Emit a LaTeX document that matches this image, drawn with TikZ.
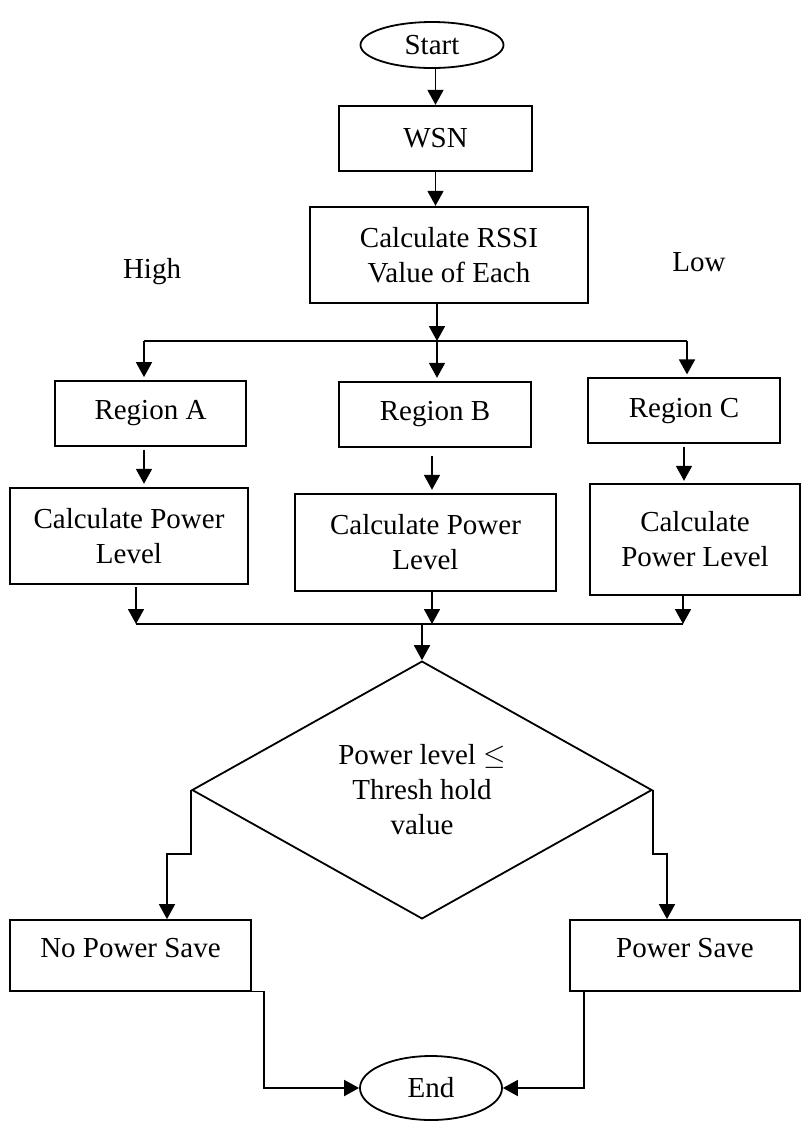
\documentclass[tikz,border=0pt]{standalone}
\usepackage{fontspec}
\setmainfont{Liberation Serif}
\usetikzlibrary{shapes.geometric,arrows.meta}

\begin{document}
\begin{tikzpicture}[x=0.5pt,y=-0.5pt,
    txt/.style={font=\fontsize{14.5}{17.5}\selectfont},
    box/.style={txt,draw,line width=0.9pt,rectangle,inner sep=0pt,align=center},
    term/.style={txt,draw,line width=0.9pt,ellipse,inner sep=0pt},
    decision/.style={txt,draw,line width=0.9pt,diamond,inner sep=0pt,align=center},
    arr/.style={-{Triangle[length=7.5pt,width=8pt]},line width=0.9pt}]
   \useasboundingbox (0,0) rectangle (801,1121);

   \node[term,minimum width=71.5pt,minimum height=23pt] (start) at (432,45) {Start};
   \node[box,minimum width=96.5pt,minimum height=32.7pt] (wsn) at (435.5,138.4) {WSN};
   \node[box,minimum width=139pt,minimum height=48.2pt] (rssi) at (449,254.9) {Calculate RSSI\\Value of Each};
   \node[txt] (high) at (152,272) {High};
   \node[txt] (low) at (699,262) {Low};

   \node[box,minimum width=95.5pt,minimum height=32.4pt] (regA) at (150.5,413.4) {Region A};
   \node[box,minimum width=96pt,minimum height=32.5pt] (regB) at (435,414.2) {Region B};
   \node[box,minimum width=96pt,minimum height=32.5pt] (regC) at (684,410.8) {Region C};

   \node[box,minimum width=119pt,minimum height=48.3pt] (calcA) at (129,536) {Calculate Power\\Level};
   \node[box,minimum width=130.5pt,minimum height=48.5pt] (calcB) at (425.5,542.2) {Calculate Power\\Level};
   \node[box,minimum width=105pt,minimum height=55.6pt] (calcC) at (695,539.3) {Calculate\\Power Level};

   \node[decision,minimum width=230pt,minimum height=128pt] (dec) at (422,790) {Power level \(\leq\)\\Thresh hold\\value};

   \node[box,minimum width=120.5pt,minimum height=35.3pt,text depth=7pt] (nops) at (130.5,955.3) {No Power Save};
   \node[box,minimum width=115pt,minimum height=35.3pt,text depth=7pt] (ps) at (685,955.3) {Power Save};
   \node[term,minimum width=71pt,minimum height=32pt] (end) at (431,1088) {End};

   \coordinate (sA) at (144,341);
   \coordinate (sB) at (437,341);
   \coordinate (sC) at (687,341);
   \coordinate (mA) at (136,624);
   \coordinate (mB) at (432,624);
   \coordinate (mC) at (683,624);

   \draw[arr] (start.south -| wsn) -- (wsn.north);
   \draw[arr] (wsn) -- (wsn |- rssi.north);
   \draw[arr] (rssi.south -| sB) -- (sB);
   \draw[line width=0.9pt] (sA) -- (sC);
   \draw[arr,shorten >=1.5pt] (sA) -- (sA |- regA.north);
   \draw[arr,shorten >=1.5pt] (sB) -- (sB |- regB.north);
   \draw[arr,shorten >=1.5pt] (sC) -- (sC |- regC.north);

   \draw[arr,shorten <=1.5pt,shorten >=1.5pt] (regA.south -| sA) -- (sA |- calcA.north);
   \draw[arr,shorten <=4pt,shorten >=1.5pt] (regB.south -| mB) -- (mB |- calcB.north);
   \draw[arr,shorten <=1.5pt,shorten >=1pt] (regC.south) -- (regC |- calcC.north);

   \draw[arr,shorten <=1pt] (calcA.south -| mA) -- (mA);
   \draw[arr] (calcB.south -| mB) -- (mB);
   \draw[arr] (calcC.south -| mC) -- (mC);
   \draw[line width=0.9pt] (mA) -- (mC);
   \draw[arr] (dec.north |- mA) -- (dec.north);

   \draw[arr] (dec.west) -- ++(0,64) -| ([xshift=18.25pt]nops.north);
   \draw[arr] (dec.east) -- ++(0,64) -| ([xshift=-9pt]ps.north);
   \draw[arr] ([xshift=18.25pt]nops.south) -- ([xshift=6pt]nops.south east) |- (end.west);
   \draw[arr] ([xshift=-9pt]ps.south) -- ([xshift=7.5pt]ps.south west) |- (end.east);
\end{tikzpicture}
\end{document}
